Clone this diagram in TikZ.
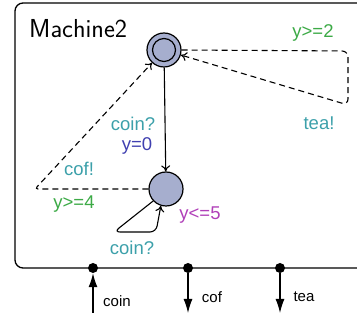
\documentclass[tikz,border=0pt]{standalone}
\usepackage{fontspec}
\newfontfamily\labelfont{Liberation Sans}
\usepackage{tikz}
\usetikzlibrary{arrows.meta}

\definecolor{statefill}{RGB}{166,174,206}
\definecolor{synccol}{RGB}{60,160,170}
\definecolor{guardcol}{RGB}{60,170,70}
\definecolor{assigncol}{RGB}{64,64,176}
\definecolor{invcol}{RGB}{176,64,184}

\tikzset{
  location/.style={circle,draw,fill=statefill,line width=1.2pt,minimum size=34pt,inner sep=0pt},
  lbl/.style={font=\labelfont\fontsize{18.5}{20}\selectfont,inner sep=0pt},
  portlbl/.style={font=\labelfont\fontsize{15}{17}\selectfont,inner sep=0pt},
  port/.style={circle,fill,inner sep=0pt,minimum size=10pt},
  trans/.style={line width=1.1pt,-{To[length=6pt,width=9pt]}}
}

\begin{document}
\begin{tikzpicture}[x=1pt,y=-1pt]
\useasboundingbox (0,0) rectangle (357,320);
\draw[line width=1.3pt,rounded corners=8pt] (358,3) -- (15,3) -- (15,268) -- (358,268);
\node [font=\sffamily\fontsize{26}{28}\selectfont,anchor=west,inner sep=0pt] (title) at (29,29) {Machine2};
% locations
\node at (164,50) [location] (idle) {};
\node at (164,50) [circle,draw,line width=1.2pt,minimum size=23pt,inner sep=0pt] (idlein) {};
\node at (166,189) [location] (paid) {};
\node [lbl,text=invcol] (inv) at (200,215) {y<=5};
% coin? from idle to paid
\draw [trans] (idle) -- (paid);
\node [lbl,text=synccol] (l1) at (133,124) {coin?};
\node [lbl,text=assigncol] (l2) at (137,146) {y=0};
% cof! back to idle
\coordinate (cofcorner) at (35,189);
\draw [trans,dashed,dash pattern=on 6pt off 4pt,rounded corners=3pt] (paid) -- (cofcorner) -- (idle);
\node [lbl,text=synccol] (l3) at (79,169) {cof!};
\node [lbl,text=guardcol] (l4) at (74,204) {y>=4};
% tea! back to idle
\coordinate (teatop) at (348,51);
\coordinate (teabot) at (348,105);
\draw [trans,dashed,dash pattern=on 6pt off 4pt,rounded corners=6pt] (idle.east) -- (teatop) -- (teabot) -- (idle);
\node [lbl,text=guardcol] (l5) at (313,33) {y>=2};
\node [lbl,text=synccol] (l6) at (319,123) {tea!};
% coin? self loop
\coordinate (loopa) at (114,232);
\coordinate (loopb) at (156,232);
\draw [trans,rounded corners=6pt] (paid.223) -- (loopa) -- (loopb) -- (paid.253);
\node [lbl,text=synccol] (l7) at (132,248) {coin?};
% ports
\node at (93,268) [port] (pcoin) {};
\node at (188,268) [port] (pcof) {};
\node at (280,268) [port] (ptea) {};
\coordinate (incoin) at (93,313);
\coordinate (outcof) at (188,313);
\coordinate (outtea) at (280,313);
\draw [line width=1.2pt,-{Latex[length=14pt,width=9pt]}] (incoin) -- (pcoin);
\draw [line width=1.2pt,-{Latex[length=14pt,width=9pt]}] (pcof) -- (outcof);
\draw [line width=1.2pt,-{Latex[length=14pt,width=9pt]}] (ptea) -- (outtea);
\node [portlbl] (t1) at (117,301) {coin};
\node [portlbl] (t2) at (212,297) {cof};
\node [portlbl] (t3) at (304,297) {tea};
\end{tikzpicture}
\end{document}
